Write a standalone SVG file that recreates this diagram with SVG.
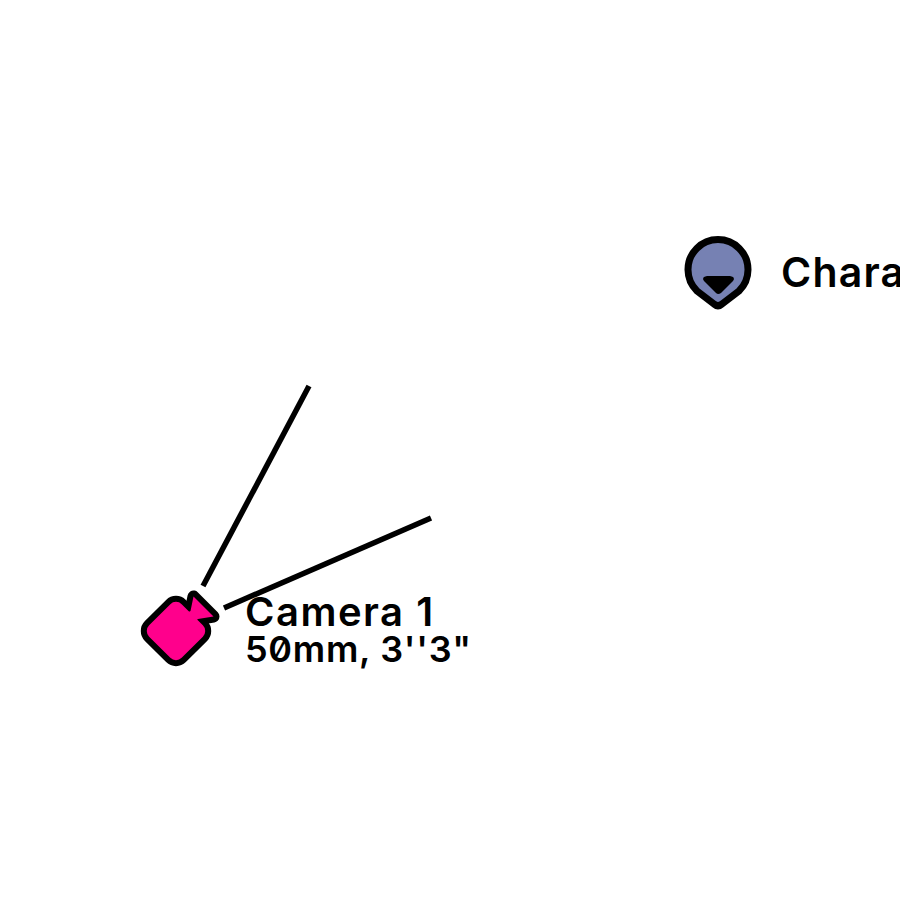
<svg xmlns="http://www.w3.org/2000/svg" width="900" height="900" viewBox="0 0 900 900">
<style>
.t{font-family:Inter,"Noto Sans",sans-serif;font-weight:600;fill:#000;font-feature-settings:"zero" 1}
.o{stroke:#000;stroke-linejoin:round}
.l{stroke:#000;stroke-width:5.500;fill:none}
.p{fill:#ff008c}
</style>
<rect width="900" height="900" fill="#fff"/>
<g id="connectors">
<line class="l" x1="203" y1="586" x2="309" y2="386"/>
<line class="l" x1="224" y1="608" x2="431" y2="518"/>
</g>
<g id="camera">
<path class="o" stroke-width="12" fill="#000" d="M193.500 596.500L213.500 616.500L198 619L190.500 611Z"/>
<rect class="o" stroke-width="12" fill="#000" x="153" y="608" width="46" height="46" rx="8" transform="rotate(45 176 631)"/>
<rect class="p" x="153" y="608" width="46" height="46" rx="8" transform="rotate(45 176 631)"/>
<path class="p" d="M193.500 596.500L213.500 616.500L198 619L190 625L183 615L190.500 611Z"/>
<text class="t" x="245" y="626" font-size="40" letter-spacing="1.500">Camera 1</text>
<text class="t" x="245" y="662" font-size="36" letter-spacing="0.700">50mm, 3''3"</text>
</g>
<g id="character">
<path class="o" stroke-width="7" fill="#7681b3" d="M714 304L697 291A30 30 0 1 1 739 291L722 304Q718 307.500 714 304Z"/>
<path fill="#000" d="M707 276H730Q736 277 733 281L721 293Q718 295 716 293L704 281Q701 277 707 276Z"/>
<text class="t" x="781" y="287" font-size="41" letter-spacing="1.200">Chara</text>
</g>
</svg>
